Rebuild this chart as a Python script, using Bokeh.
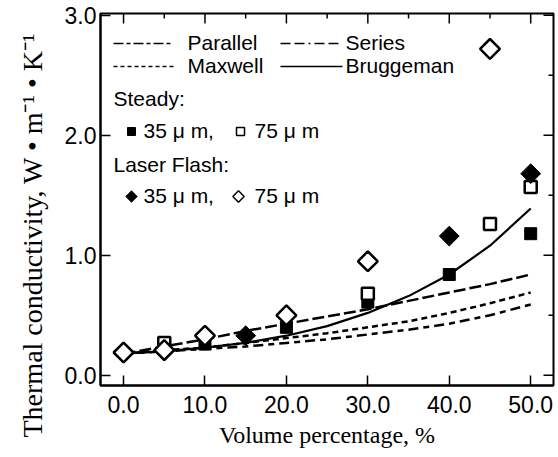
from bokeh.plotting import figure
from bokeh.models import FixedTicker, PrintfTickFormatter, Range1d, Title
from bokeh.core.properties import value
from bokeh.embed import file_html
from bokeh.resources import INLINE
import numpy as np

# ---------------- data ----------------
model_x = [0, 5, 10, 15, 20, 25, 30, 35, 40, 45, 50]
parallel = [0.18, 0.24, 0.30, 0.37, 0.43, 0.49, 0.55, 0.62, 0.69, 0.76, 0.84]
maxwell = [0.18, 0.21, 0.23, 0.27, 0.31, 0.35, 0.40, 0.45, 0.52, 0.60, 0.69]
series = [0.18, 0.20, 0.22, 0.24, 0.27, 0.30, 0.34, 0.38, 0.43, 0.50, 0.59]
bruggeman = [0.18, 0.20, 0.23, 0.27, 0.33, 0.41, 0.52, 0.66, 0.84, 1.08, 1.39]

steady35_x = [10, 20, 30, 40, 50]
steady35_y = [0.26, 0.40, 0.61, 0.84, 1.18]
steady75_x = [5, 30, 45, 50]
steady75_y = [0.27, 0.68, 1.26, 1.57]
flash35_x = [15, 40, 50]
flash35_y = [0.33, 1.16, 1.68]
flash75_x = [0, 5, 10, 20, 30, 45]
flash75_y = [0.19, 0.21, 0.33, 0.50, 0.95, 2.72]

x_ticks = [0, 10, 20, 30, 40, 50]
x_minor = [5, 15, 25, 35, 45]
y_ticks = [0, 1, 2, 3]
y_minor = [0.5, 1.5, 2.5]
x_label = "Volume percentage, %"
y_label = "Thermal conductivity, W \u2022 m\u207b\u00b9 \u2022 K\u207b\u00b9"

# ---------------- figure ----------------
X0, X1 = -2.83, 52.8
Y0, Y1 = -0.085, 3.015
FL, FT, FW, FH = 100, 13, 453, 372

p = figure(width=558, height=457, output_backend="svg", toolbar_location=None,
           x_range=Range1d(X0, X1), y_range=Range1d(Y0, Y1),
           min_border_left=FL, min_border_right=558 - FL - FW,
           min_border_top=FT, min_border_bottom=457 - FT - FH,
           x_axis_label=x_label)
p.grid.visible = False
p.outline_line_color = "black"
p.outline_line_width = 2
p.background_fill_color = "white"
p.border_fill_color = "white"

def dx(px):
    return X0 + (px - FL) / FW * (X1 - X0)

def dy(py):
    return Y1 - (py - FT) / FH * (Y1 - Y0)

def pxw(n):   # pixel length -> x data length
    return n / FW * (X1 - X0)

def pxh(n):   # pixel length -> y data length
    return n / FH * (Y1 - Y0)

sans = "Liberation Sans"
serif = "Liberation Serif"

for ax in list(p.xaxis) + list(p.yaxis):
    ax.formatter = PrintfTickFormatter(format="%.1f")
    ax.major_tick_in = 10
    ax.major_tick_out = 0
    ax.minor_tick_out = 0
    ax.minor_tick_in = 0
    ax.axis_line_width = 2
    ax.axis_line_color = "black"
    ax.major_tick_line_width = 1.5
    ax.major_tick_line_color = "black"
    ax.major_label_text_font = sans
    ax.major_label_text_font_size = "23px"
    ax.major_label_text_color = "black"
    ax.axis_label_text_font = serif
    ax.axis_label_text_font_style = "normal"
    ax.axis_label_text_color = "black"

for ax in p.xaxis:
    ax.ticker = FixedTicker(ticks=x_ticks)
    ax.major_label_standoff = 10
    ax.axis_label_text_font_size = "24px"
    ax.axis_label_standoff = 6

for ax in p.yaxis:
    ax.ticker = FixedTicker(ticks=y_ticks)
    ax.major_label_standoff = 4

# y-axis title as a side title so it can start below the frame like the reference
p.add_layout(Title(text=y_label, align="left", offset=-52, text_font=serif,
                   text_font_size="28px", text_font_style="normal", text_color="black",
                   standoff=28), "left")

# mirrored ticks on top and right edges
p.segment(x0=x_ticks, x1=x_ticks, y0=[Y1] * len(x_ticks), y1=[Y1 - pxh(10)] * len(x_ticks),
          line_color="black", line_width=1.5)
p.segment(x0=x_minor, x1=x_minor, y0=[Y1] * len(x_minor), y1=[Y1 - pxh(5)] * len(x_minor),
          line_color="black", line_width=1.5)
p.segment(x0=[X1] * len(y_ticks), x1=[X1 - pxw(10)] * len(y_ticks), y0=y_ticks, y1=y_ticks,
          line_color="black", line_width=1.5)
p.segment(x0=[X1] * len(y_minor), x1=[X1 - pxw(5)] * len(y_minor), y0=y_minor, y1=y_minor,
          line_color="black", line_width=1.5)

# ---------------- model curves ----------------
p.line(model_x, parallel, line_color="black", line_width=2.5, line_dash="12 4")
p.line(model_x, maxwell, line_color="black", line_width=2.5, line_dash="6 4")
p.line(model_x, series, line_color="black", line_width=2.5, line_dash="10 5 6 5")
p.line(model_x, bruggeman, line_color="black", line_width=2.2)

# ---------------- measurements ----------------
p.scatter(steady35_x, steady35_y, marker="square", size=12, fill_color="black", line_color="black")
p.scatter(steady75_x, steady75_y, marker="square", size=12, fill_color="white",
          line_color="black", line_width=2.5)
p.scatter(flash35_x, flash35_y, marker="square", angle=np.pi / 4, size=14,
          fill_color="black", line_color="black")
p.scatter(flash75_x, flash75_y, marker="square", angle=np.pi / 4, size=14,
          fill_color="white", line_color="black", line_width=2.5)

# ---------------- legend (manual) ----------------
fs = "21px"
def label(px, py, txt):
    p.text([dx(px)], [dy(py)], text=[txt], text_font=value(sans), text_font_size=fs,
           text_baseline="middle", text_align="left", text_color="black")

def sample(px0, px1, py, dash):
    p.line([dx(px0), dx(px1)], [dy(py), dy(py)], line_color="black", line_width=1.3,
           line_dash=dash)

sample(113, 173, 43, "10 3 4 3")
label(187, 42, "Parallel")
sample(280, 342, 43, "10 4 10 4 2 4")
label(345, 42, "Series")
sample(113, 173, 66, "4 3")
label(187, 65, "Maxwell")
sample(280, 342, 66, "solid")
label(345, 65, "Bruggeman")

label(113, 98, "Steady:")
p.scatter([dx(131)], [dy(131)], marker="square", size=8, fill_color="black", line_color="black")
label(143, 130, "35 \u03bc m,")
p.scatter([dx(240)], [dy(131)], marker="square", size=8, fill_color="white",
          line_color="black", line_width=1.5)
label(254, 130, "75 \u03bc m")

label(113, 164, "Laser Flash:")
p.scatter([dx(131)], [dy(196)], marker="square", angle=np.pi / 4, size=8,
          fill_color="black", line_color="black")
label(143, 195, "35 \u03bc m,")
p.scatter([dx(238)], [dy(196)], marker="square", angle=np.pi / 4, size=8,
          fill_color="white", line_color="black", line_width=1.5)
label(254, 195, "75 \u03bc m")

open("out.html", "w").write(file_html(p, INLINE))
